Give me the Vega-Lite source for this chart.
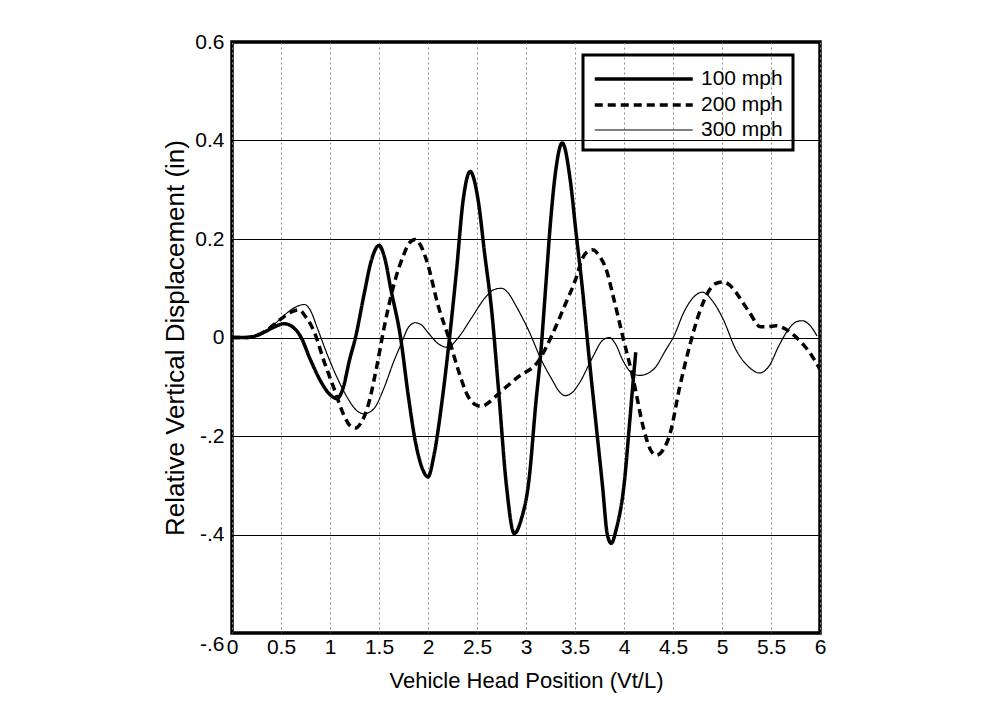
{
  "$schema": "https://vega.github.io/schema/vega-lite/v6.json",
  "autosize": "none",
  "width": 588,
  "height": 591,
  "padding": {"left": 232, "top": 42, "right": 170, "bottom": 80},
  "background": "white",
  "config": {
    "view": {"stroke": "black", "strokeWidth": 3.5},
    "font": "Liberation Sans",
    "axis": {"domain": false, "ticks": false, "labelFont": "Liberation Sans", "titleFont": "Liberation Sans", "labelColor": "black", "titleColor": "black", "titleFontWeight": "normal"},
    "legend": {"strokeColor": "black", "strokeWidth": 3, "fillColor": null}
  },
  "datasets": {
    "curves": [
      {"x": 0, "y": 0, "speed": "100 mph"}, {"x": 0.15, "y": 0, "speed": "100 mph"}, {"x": 0.25, "y": 0.004, "speed": "100 mph"}, {"x": 0.35, "y": 0.013, "speed": "100 mph"}, {"x": 0.45, "y": 0.023, "speed": "100 mph"}, {"x": 0.53, "y": 0.028, "speed": "100 mph"}, {"x": 0.6, "y": 0.024, "speed": "100 mph"}, {"x": 0.7, "y": 0.002, "speed": "100 mph"}, {"x": 0.8, "y": -0.045, "speed": "100 mph"}, {"x": 0.9, "y": -0.087, "speed": "100 mph"}, {"x": 1.0, "y": -0.116, "speed": "100 mph"}, {"x": 1.07, "y": -0.124, "speed": "100 mph"}, {"x": 1.13, "y": -0.105, "speed": "100 mph"}, {"x": 1.2, "y": -0.045, "speed": "100 mph"}, {"x": 1.26, "y": 0.0, "speed": "100 mph"}, {"x": 1.35, "y": 0.09, "speed": "100 mph"}, {"x": 1.42, "y": 0.155, "speed": "100 mph"}, {"x": 1.5, "y": 0.187, "speed": "100 mph"}, {"x": 1.56, "y": 0.16, "speed": "100 mph"}, {"x": 1.62, "y": 0.099, "speed": "100 mph"}, {"x": 1.72, "y": 0.0, "speed": "100 mph"}, {"x": 1.8, "y": -0.12, "speed": "100 mph"}, {"x": 1.87, "y": -0.21, "speed": "100 mph"}, {"x": 1.94, "y": -0.265, "speed": "100 mph"}, {"x": 2.0, "y": -0.283, "speed": "100 mph"}, {"x": 2.06, "y": -0.24, "speed": "100 mph"}, {"x": 2.14, "y": -0.134, "speed": "100 mph"}, {"x": 2.22, "y": 0.0, "speed": "100 mph"}, {"x": 2.29, "y": 0.134, "speed": "100 mph"}, {"x": 2.36, "y": 0.281, "speed": "100 mph"}, {"x": 2.43, "y": 0.337, "speed": "100 mph"}, {"x": 2.51, "y": 0.281, "speed": "100 mph"}, {"x": 2.58, "y": 0.167, "speed": "100 mph"}, {"x": 2.65, "y": 0.054, "speed": "100 mph"}, {"x": 2.72, "y": -0.107, "speed": "100 mph"}, {"x": 2.8, "y": -0.3, "speed": "100 mph"}, {"x": 2.88, "y": -0.398, "speed": "100 mph"}, {"x": 2.95, "y": -0.37, "speed": "100 mph"}, {"x": 3.03, "y": -0.29, "speed": "100 mph"}, {"x": 3.1, "y": -0.134, "speed": "100 mph"}, {"x": 3.15, "y": -0.033, "speed": "100 mph"}, {"x": 3.2, "y": 0.1, "speed": "100 mph"}, {"x": 3.25, "y": 0.234, "speed": "100 mph"}, {"x": 3.3, "y": 0.334, "speed": "100 mph"}, {"x": 3.37, "y": 0.395, "speed": "100 mph"}, {"x": 3.455, "y": 0.314, "speed": "100 mph"}, {"x": 3.51, "y": 0.214, "speed": "100 mph"}, {"x": 3.575, "y": 0.1, "speed": "100 mph"}, {"x": 3.64, "y": -0.033, "speed": "100 mph"}, {"x": 3.71, "y": -0.167, "speed": "100 mph"}, {"x": 3.78, "y": -0.3, "speed": "100 mph"}, {"x": 3.83, "y": -0.4, "speed": "100 mph"}, {"x": 3.87, "y": -0.418, "speed": "100 mph"}, {"x": 3.92, "y": -0.39, "speed": "100 mph"}, {"x": 4.0, "y": -0.3, "speed": "100 mph"}, {"x": 4.06, "y": -0.167, "speed": "100 mph"}, {"x": 4.095, "y": -0.085, "speed": "100 mph"}, {"x": 4.12, "y": -0.03, "speed": "100 mph"},

      {"x": 0, "y": 0, "speed": "200 mph"}, {"x": 0.15, "y": 0, "speed": "200 mph"}, {"x": 0.25, "y": 0.004, "speed": "200 mph"}, {"x": 0.35, "y": 0.014, "speed": "200 mph"}, {"x": 0.45, "y": 0.03, "speed": "200 mph"}, {"x": 0.55, "y": 0.045, "speed": "200 mph"}, {"x": 0.62, "y": 0.053, "speed": "200 mph"}, {"x": 0.68, "y": 0.056, "speed": "200 mph"}, {"x": 0.76, "y": 0.04, "speed": "200 mph"}, {"x": 0.84, "y": 0.011, "speed": "200 mph"}, {"x": 0.94, "y": -0.049, "speed": "200 mph"}, {"x": 1.04, "y": -0.103, "speed": "200 mph"}, {"x": 1.14, "y": -0.157, "speed": "200 mph"}, {"x": 1.2, "y": -0.178, "speed": "200 mph"}, {"x": 1.26, "y": -0.184, "speed": "200 mph"}, {"x": 1.32, "y": -0.172, "speed": "200 mph"}, {"x": 1.38, "y": -0.144, "speed": "200 mph"}, {"x": 1.48, "y": -0.056, "speed": "200 mph"}, {"x": 1.55, "y": 0.018, "speed": "200 mph"}, {"x": 1.65, "y": 0.106, "speed": "200 mph"}, {"x": 1.75, "y": 0.167, "speed": "200 mph"}, {"x": 1.81, "y": 0.192, "speed": "200 mph"}, {"x": 1.87, "y": 0.199, "speed": "200 mph"}, {"x": 1.93, "y": 0.185, "speed": "200 mph"}, {"x": 2.0, "y": 0.147, "speed": "200 mph"}, {"x": 2.1, "y": 0.067, "speed": "200 mph"}, {"x": 2.21, "y": 0.0, "speed": "200 mph"}, {"x": 2.31, "y": -0.067, "speed": "200 mph"}, {"x": 2.41, "y": -0.12, "speed": "200 mph"}, {"x": 2.48, "y": -0.136, "speed": "200 mph"}, {"x": 2.55, "y": -0.14, "speed": "200 mph"}, {"x": 2.62, "y": -0.132, "speed": "200 mph"}, {"x": 2.72, "y": -0.114, "speed": "200 mph"}, {"x": 2.92, "y": -0.08, "speed": "200 mph"}, {"x": 3.13, "y": -0.047, "speed": "200 mph"}, {"x": 3.27, "y": 0.007, "speed": "200 mph"}, {"x": 3.4, "y": 0.067, "speed": "200 mph"}, {"x": 3.51, "y": 0.12, "speed": "200 mph"}, {"x": 3.575, "y": 0.16, "speed": "200 mph"}, {"x": 3.63, "y": 0.175, "speed": "200 mph"}, {"x": 3.68, "y": 0.178, "speed": "200 mph"}, {"x": 3.75, "y": 0.165, "speed": "200 mph"}, {"x": 3.815, "y": 0.14, "speed": "200 mph"}, {"x": 3.9, "y": 0.075, "speed": "200 mph"}, {"x": 3.99, "y": 0.0, "speed": "200 mph"}, {"x": 4.095, "y": -0.085, "speed": "200 mph"}, {"x": 4.2, "y": -0.185, "speed": "200 mph"}, {"x": 4.27, "y": -0.228, "speed": "200 mph"}, {"x": 4.33, "y": -0.239, "speed": "200 mph"}, {"x": 4.4, "y": -0.228, "speed": "200 mph"}, {"x": 4.47, "y": -0.195, "speed": "200 mph"}, {"x": 4.57, "y": -0.099, "speed": "200 mph"}, {"x": 4.67, "y": -0.017, "speed": "200 mph"}, {"x": 4.77, "y": 0.051, "speed": "200 mph"}, {"x": 4.87, "y": 0.096, "speed": "200 mph"}, {"x": 4.94, "y": 0.11, "speed": "200 mph"}, {"x": 5.01, "y": 0.113, "speed": "200 mph"}, {"x": 5.08, "y": 0.106, "speed": "200 mph"}, {"x": 5.14, "y": 0.092, "speed": "200 mph"}, {"x": 5.28, "y": 0.051, "speed": "200 mph"}, {"x": 5.39, "y": 0.022, "speed": "200 mph"}, {"x": 5.47, "y": 0.022, "speed": "200 mph"}, {"x": 5.55, "y": 0.024, "speed": "200 mph"}, {"x": 5.62, "y": 0.02, "speed": "200 mph"}, {"x": 5.68, "y": 0.013, "speed": "200 mph"}, {"x": 5.81, "y": -0.01, "speed": "200 mph"}, {"x": 5.92, "y": -0.038, "speed": "200 mph"}, {"x": 6.0, "y": -0.065, "speed": "200 mph"},

      {"x": 0, "y": 0, "speed": "300 mph"}, {"x": 0.15, "y": 0, "speed": "300 mph"}, {"x": 0.25, "y": 0.004, "speed": "300 mph"}, {"x": 0.35, "y": 0.014, "speed": "300 mph"}, {"x": 0.45, "y": 0.03, "speed": "300 mph"}, {"x": 0.55, "y": 0.048, "speed": "300 mph"}, {"x": 0.65, "y": 0.062, "speed": "300 mph"}, {"x": 0.74, "y": 0.067, "speed": "300 mph"}, {"x": 0.8, "y": 0.055, "speed": "300 mph"}, {"x": 0.873, "y": 0.018, "speed": "300 mph"}, {"x": 0.975, "y": -0.036, "speed": "300 mph"}, {"x": 1.076, "y": -0.083, "speed": "300 mph"}, {"x": 1.18, "y": -0.123, "speed": "300 mph"}, {"x": 1.27, "y": -0.148, "speed": "300 mph"}, {"x": 1.35, "y": -0.155, "speed": "300 mph"}, {"x": 1.45, "y": -0.144, "speed": "300 mph"}, {"x": 1.55, "y": -0.103, "speed": "300 mph"}, {"x": 1.65, "y": -0.049, "speed": "300 mph"}, {"x": 1.72, "y": -0.016, "speed": "300 mph"}, {"x": 1.805, "y": 0.022, "speed": "300 mph"}, {"x": 1.87, "y": 0.03, "speed": "300 mph"}, {"x": 1.93, "y": 0.026, "speed": "300 mph"}, {"x": 2.0, "y": 0.01, "speed": "300 mph"}, {"x": 2.1, "y": -0.012, "speed": "300 mph"}, {"x": 2.2, "y": -0.02, "speed": "300 mph"}, {"x": 2.31, "y": 0.0, "speed": "300 mph"}, {"x": 2.445, "y": 0.04, "speed": "300 mph"}, {"x": 2.58, "y": 0.08, "speed": "300 mph"}, {"x": 2.67, "y": 0.097, "speed": "300 mph"}, {"x": 2.75, "y": 0.1, "speed": "300 mph"}, {"x": 2.82, "y": 0.09, "speed": "300 mph"}, {"x": 2.89, "y": 0.067, "speed": "300 mph"}, {"x": 3.03, "y": 0.013, "speed": "300 mph"}, {"x": 3.16, "y": -0.047, "speed": "300 mph"}, {"x": 3.27, "y": -0.087, "speed": "300 mph"}, {"x": 3.34, "y": -0.11, "speed": "300 mph"}, {"x": 3.4, "y": -0.118, "speed": "300 mph"}, {"x": 3.47, "y": -0.112, "speed": "300 mph"}, {"x": 3.54, "y": -0.094, "speed": "300 mph"}, {"x": 3.68, "y": -0.04, "speed": "300 mph"}, {"x": 3.78, "y": -0.006, "speed": "300 mph"}, {"x": 3.85, "y": 0.0, "speed": "300 mph"}, {"x": 3.91, "y": -0.012, "speed": "300 mph"}, {"x": 3.99, "y": -0.047, "speed": "300 mph"}, {"x": 4.08, "y": -0.072, "speed": "300 mph"}, {"x": 4.16, "y": -0.077, "speed": "300 mph"}, {"x": 4.3, "y": -0.065, "speed": "300 mph"}, {"x": 4.43, "y": -0.024, "speed": "300 mph"}, {"x": 4.51, "y": 0.003, "speed": "300 mph"}, {"x": 4.61, "y": 0.051, "speed": "300 mph"}, {"x": 4.71, "y": 0.082, "speed": "300 mph"}, {"x": 4.8, "y": 0.092, "speed": "300 mph"}, {"x": 4.9, "y": 0.075, "speed": "300 mph"}, {"x": 5.01, "y": 0.038, "speed": "300 mph"}, {"x": 5.14, "y": -0.024, "speed": "300 mph"}, {"x": 5.28, "y": -0.061, "speed": "300 mph"}, {"x": 5.38, "y": -0.072, "speed": "300 mph"}, {"x": 5.48, "y": -0.058, "speed": "300 mph"}, {"x": 5.58, "y": -0.017, "speed": "300 mph"}, {"x": 5.68, "y": 0.017, "speed": "300 mph"}, {"x": 5.76, "y": 0.032, "speed": "300 mph"}, {"x": 5.82, "y": 0.034, "speed": "300 mph"}, {"x": 5.9, "y": 0.024, "speed": "300 mph"}, {"x": 5.97, "y": 0.003, "speed": "300 mph"}
    ]
  },
  "data": {"name": "curves"},
  "mark": {"type": "line", "stroke": "black", "interpolate": "monotone", "clip": true},
  "encoding": {
    "x": {
      "field": "x", "type": "quantitative",
      "scale": {"domain": [0, 6], "nice": false, "zero": false},
      "axis": {
        "values": [0, 0.5, 1, 1.5, 2, 2.5, 3, 3.5, 4, 4.5, 5, 5.5, 6],
        "labelExpr": "'' + datum.value",
        "labelFontSize": 21, "labelPadding": 3, "labelFlush": false,
        "title": "Vehicle Head Position (Vt/L)", "titleFontSize": 22, "titlePadding": 13,
        "grid": true, "gridColor": "#888", "gridWidth": 1, "gridDash": [2, 3]
      }
    },
    "y": {
      "field": "y", "type": "quantitative",
      "scale": {"domain": [-0.6, 0.6], "nice": false, "zero": false},
      "axis": {
        "values": [-0.6, -0.4, -0.2, 0, 0.2, 0.4, 0.6],
        "labelExpr": "datum.value == 0 ? '0' : (datum.value > 0 ? '0.' + round(datum.value * 10) : '-.' + round(-datum.value * 10))",
        "labelBaseline": {"condition": {"test": "datum.value < -0.5", "value": "top"}, "value": "middle"},
        "labelFontSize": 21, "labelPadding": 8, "labelFlush": false,
        "title": "Relative Vertical Displacement (in)", "titleFontSize": 26, "titlePadding": 6,
        "grid": true, "gridColor": "black", "gridWidth": 1.2
      }
    },
    "strokeDash": {
      "field": "speed", "type": "nominal",
      "scale": {"domain": ["100 mph", "200 mph", "300 mph"], "range": [[1, 0], [8, 5], [1, 0]]},
      "legend": {
        "title": null, "orient": "none", "legendX": 351, "legendY": 13,
        "symbolType": "M-1,0H7", "symbolSize": 600, "symbolStrokeColor": "black",
        "labelFontSize": 21, "labelFont": "Liberation Sans", "labelColor": "black", "labelOffset": 80,
        "padding": 10, "rowPadding": 2
      }
    },
    "strokeWidth": {
      "field": "speed", "type": "nominal",
      "scale": {"type": "ordinal", "domain": ["100 mph", "200 mph", "300 mph"], "range": [3.5, 3.5, 1.2]},
      "legend": {
        "title": null, "orient": "none", "legendX": 351, "legendY": 13,
        "symbolType": "M-1,0H7", "symbolSize": 600, "symbolStrokeColor": "black",
        "labelFontSize": 21, "labelFont": "Liberation Sans", "labelColor": "black", "labelOffset": 80,
        "padding": 10, "rowPadding": 2
      }
    }
  }
}
